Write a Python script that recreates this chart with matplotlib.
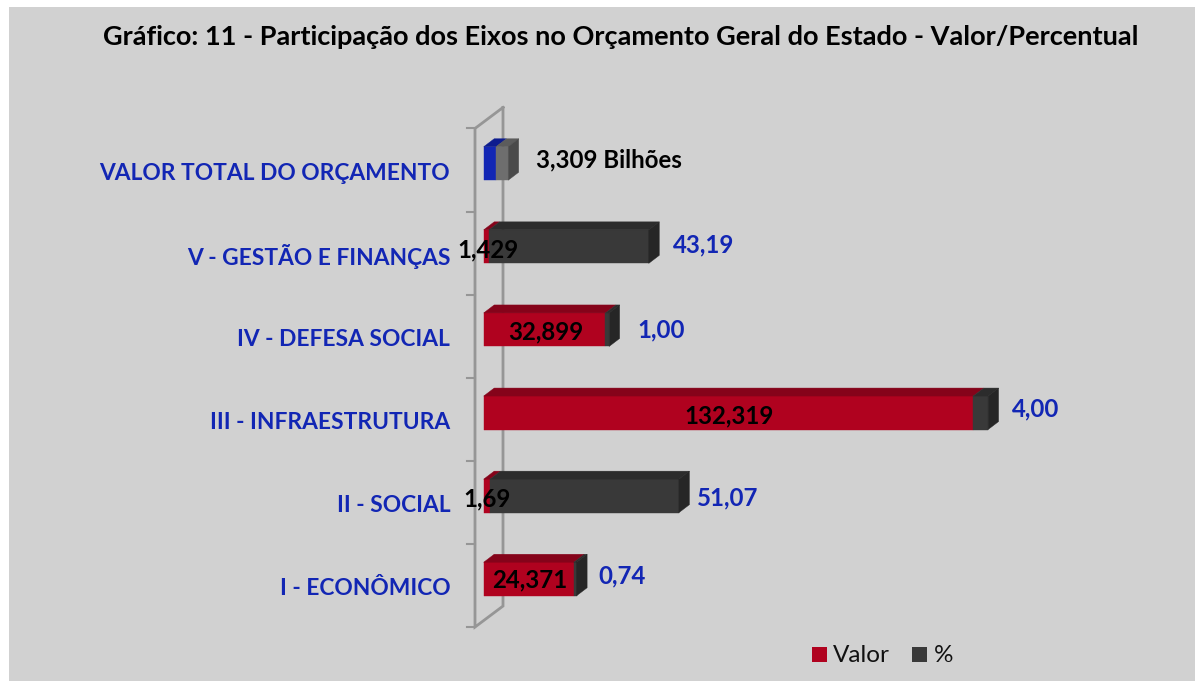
import matplotlib
matplotlib.use('Agg')
import matplotlib.pyplot as plt
from matplotlib.patches import Polygon, Rectangle

# Dados
eixos = ['I - ECONÔMICO', 'II - SOCIAL', 'III - INFRAESTRUTURA', 'IV - DEFESA SOCIAL',
         'V - GESTÃO E FINANÇAS', 'VALOR TOTAL DO ORÇAMENTO']
valor = [24.371, 1.69, 132.319, 32.899, 1.429, 3.309]
percentual = [0.74, 51.07, 4.00, 1.00, 43.19, 3.309]
rotulos_valor = ['24,371', '1,69', '132,319', '32,899', '1,429', '']
rotulos_perc = ['0,74', '51,07', '4,00', '1,00', '43,19', '3,309 Bilhões']
titulo = 'Gráfico: 11 - Participação dos Eixos no Orçamento Geral do Estado - Valor/Percentual'

# Escala em pixels
W, H = 1195, 681
PX_X = 3.70
PX_Y = 83.1
X0 = 483.7
Y0 = 579
DX = 10.5 / PX_X
DY = 8 / PX_Y
ALTURA = 33.5 / PX_Y

AZUL = '#1226B4'
FONTE = 'Lato'

# Ajustes finos dos rotulos (pixels a partir do fim da barra)
desloc_perc = [22, 18, 24, 28, 24, 28]
desloc_y_perc = [3, -2, 4, 0, 2, 4]
desloc_y_val = [-1, -3, -3, -2, -3, 0]

fig = plt.figure(figsize=(W / 100, H / 100), dpi=100, facecolor='white')
fig.patches.append(Rectangle((9 / W, 0), 1, 1 - 7 / H, transform=fig.transFigure,
                             facecolor='#D1D1D1', edgecolor='none', zorder=-5))
ax = fig.add_axes([0, 0, 1, 1])
ax.patch.set_alpha(0)
ax.set_xlim(-X0 / PX_X, (W - X0) / PX_X)
ax.set_ylim((Y0 - H) / PX_Y, Y0 / PX_Y)
ax.axis('off')


def barra_3d(inicio, largura, y, frente, topo, lado=None):
    # Face da frente com barh, topo e lado com poligonos
    fim = inicio + largura
    base, alto = y - ALTURA / 2, y + ALTURA / 2
    ax.barh(y, largura, left=inicio, height=ALTURA, color=frente, edgecolor=frente, linewidth=0.3, zorder=3)
    ax.add_patch(Polygon([(inicio, alto), (fim, alto), (fim + DX, alto + DY), (inicio + DX, alto + DY)],
                         facecolor=topo, edgecolor=topo, linewidth=0.3, zorder=3))
    if lado:
        ax.add_patch(Polygon([(fim, alto), (fim + DX, alto + DY), (fim + DX, base + DY), (fim, base)],
                             facecolor=lado, edgecolor=lado, linewidth=0.3, zorder=3))


# Parede do grafico
cor_parede = '#969696'
x_frente = -8.7 / PX_X
x_fundo = 19.3 / PX_X
dy_fundo = 21 / PX_Y
y_min = -0.5 - 6.5 / PX_Y
y_max = 5.5 - 6.5 / PX_Y
ax.plot([x_fundo, x_frente, x_frente, x_fundo, x_fundo],
        [y_max + dy_fundo, y_max, y_min, y_min + dy_fundo, y_max + dy_fundo],
        color=cor_parede, lw=2, zorder=1, solid_joinstyle='miter')
for i in range(len(eixos) + 1):
    ax.plot([x_frente - 8 / PX_X, x_frente], [y_min + i, y_min + i], color=cor_parede, lw=1.5, zorder=1)

# Barras
for i, nome in enumerate(eixos):
    v, p = valor[i], percentual[i]
    if i == 5:
        barra_3d(0, v, i, AZUL, '#0D1C8E')
        barra_3d(v, p, i, '#6E6E6E', '#5C5C5C', '#4A4A4A')
    else:
        barra_3d(0, v, i, '#B0021F', '#85031A')
        barra_3d(v, p, i, '#393939', '#2C2C2C', '#262626')

    ax.text(-33.5 / PX_X, i - 9.5 / PX_Y, nome, ha='right', va='center', color=AZUL,
            fontsize=16.4, fontweight='bold', family=FONTE)

    cor = 'black' if i == 5 else AZUL
    ax.annotate(rotulos_perc[i], (v + p, i), xytext=(desloc_perc[i] * 0.72, desloc_y_perc[i] * 0.72),
                textcoords='offset points', ha='left', va='center', color=cor,
                fontsize=17.3, fontweight='bold', family=FONTE, zorder=5)
    if rotulos_valor[i]:
        xc = 3.8 / PX_X if v < 5 else v / 2 + 0.2
        ax.annotate(rotulos_valor[i], (xc, i), xytext=(0, desloc_y_val[i] * 0.72),
                    textcoords='offset points', ha='center', va='center', color='black',
                    fontsize=17.3, fontweight='bold', family=FONTE, zorder=5)

# Titulo
fig.text(621 / W, 1 - 37 / H, titulo, ha='center', va='center', color='black',
         fontsize=19.5, fontweight='bold', family=FONTE)

# Legenda
for x_q, cor, txt, x_t in [(812, '#B0021F', 'Valor', 833), (912, '#393939', '%', 934)]:
    fig.patches.append(Rectangle((x_q / W, 1 - 662 / H), 15 / W, 15 / H, transform=fig.transFigure,
                                 facecolor=cor, edgecolor='none'))
    fig.text(x_t / W, 1 - 656 / H, txt, ha='left', va='center', color='#111111',
             fontsize=17.5, family=FONTE)

fig.savefig('out.png', dpi=100)
